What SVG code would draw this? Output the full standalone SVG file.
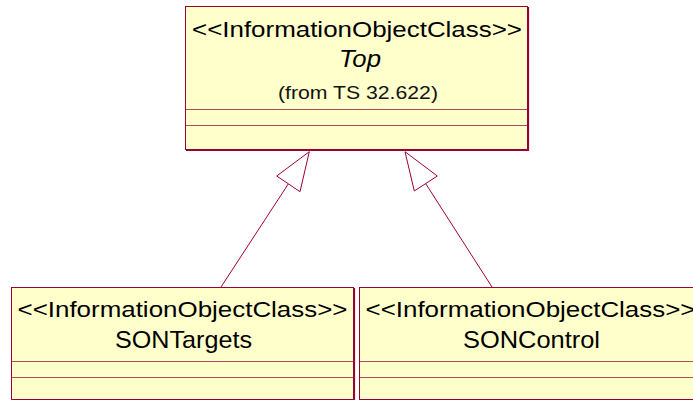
<svg xmlns="http://www.w3.org/2000/svg" width="693" height="401" viewBox="0 0 693 401">
<style>
.box{fill:#FFFFCC;stroke:#990033;stroke-width:1}
.div{stroke:#B04A60;stroke-width:1;fill:none}
.shadow{stroke:#990033;stroke-width:1.2;fill:none}
.t{font-family:"Liberation Sans",Arial,sans-serif;fill:#000;text-anchor:middle}
.st{font-size:22px}
.nm{font-size:24px}
.it{font-size:23px;font-style:italic}
.fr{font-size:18px;fill:#111}
.conn{stroke:#A0003A;stroke-width:1;fill:none}
.head{stroke:#A0003A;stroke-width:1;fill:#FFFFFF}
</style>
<rect width="693" height="401" fill="#FFFFFF"/>
<g id="connectors">
<line class="conn" x1="221" y1="287" x2="288.4" y2="183.8"/>
<polygon class="head" points="309.3,151.7 276.7,176 300,191.7"/>
<line class="conn" x1="492" y1="287" x2="425.6" y2="183.5"/>
<polygon class="head" points="405,151.7 437.3,176 414.3,191"/>
</g>
<g id="Top">
<rect class="box" x="185.5" y="6.5" width="342" height="143"/>
<polyline class="shadow" points="528.5,7 528.5,150.5 186,150.5"/>
<line class="div" x1="186" y1="109.5" x2="527" y2="109.5"/>
<line class="div" x1="186" y1="125.5" x2="527" y2="125.5"/>
<text class="t st" x="357" y="37" textLength="330" lengthAdjust="spacingAndGlyphs">&lt;&lt;InformationObjectClass&gt;&gt;</text>
<text class="t it" x="360" y="67" textLength="42" lengthAdjust="spacingAndGlyphs">Top</text>
<text class="t fr" x="358" y="99" textLength="160" lengthAdjust="spacingAndGlyphs">(from TS 32.622)</text>
</g>
<g id="SONTargets">
<rect class="box" x="11.5" y="287.5" width="342" height="112"/>
<line class="shadow" x1="354.5" y1="288" x2="354.5" y2="400"/>
<line class="div" x1="12" y1="361.5" x2="353" y2="361.5"/>
<line class="div" x1="12" y1="377.5" x2="353" y2="377.5"/>
<text class="t st" x="182.5" y="317" textLength="330" lengthAdjust="spacingAndGlyphs">&lt;&lt;InformationObjectClass&gt;&gt;</text>
<text class="t nm" x="183.5" y="348" textLength="137" lengthAdjust="spacingAndGlyphs">SONTargets</text>
</g>
<g id="SONControl">
<rect class="box" x="359.5" y="287.5" width="342" height="112"/>
<line class="div" x1="360" y1="361.5" x2="701" y2="361.5"/>
<line class="div" x1="360" y1="377.5" x2="701" y2="377.5"/>
<text class="t st" x="530.5" y="317" textLength="330" lengthAdjust="spacingAndGlyphs">&lt;&lt;InformationObjectClass&gt;&gt;</text>
<text class="t nm" x="531.5" y="348" textLength="137" lengthAdjust="spacingAndGlyphs">SONControl</text>
</g>
</svg>
